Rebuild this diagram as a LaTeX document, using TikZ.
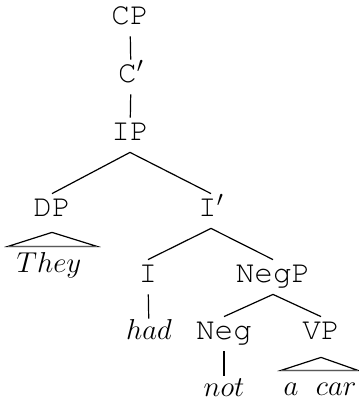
\documentclass[tikz,border=0pt]{standalone}
\usepackage{fontspec}
\setmonofont{texgyrecursor-regular.otf}
\begin{document}
\begin{tikzpicture}[x=0.5pt,y=-0.5pt,
  lab/.style={inner sep=0pt,font=\fontsize{15.5}{18}\selectfont\ttfamily,text height=0.57em,text depth=0pt,minimum height=17pt},
  word/.style={inner sep=0pt,font=\fontsize{13.5}{15}\selectfont,text height=0.5em,text depth=0pt,minimum height=15pt},
  edge/.style={line width=0.6pt},
  tri/.style={line width=0.6pt}]
\useasboundingbox (0,0) rectangle (358,400);
\node[lab] (CP) at (130,19) {CP};
\node[lab] (C1) at (131,77) {C$'$};
\node[lab] (IP) at (130,135) {IP};
\node[lab] (DP) at (52,211) {DP};
\node[lab] (I1) at (211,211) {I$'$};
\node[lab] (I) at (148,277) {I};
\node[lab] (NegP) at (273,277) {NegP};
\node[lab] (Neg) at (224,334) {Neg};
\node[lab] (VP) at (321,334) {VP};
\node[word] (they) at (49,267) {$They$};
\node[word] (had) at (149,334) {$had$};
\node[word] (not) at (224,391) {$not$};
\node[word] (acar) at (320,390) {$a$\ \ $car$};
\draw[edge] (CP) -- (C1);
\draw[edge] (C1) -- (IP);
\draw[edge] (IP.south) -- (DP.north);
\draw[edge] (IP.south) -- (I1.north);
\draw[edge] (I1.south) -- (I.north);
\draw[edge] (I1.south) -- (NegP.north);
\draw[edge] (I) -- (had);
\draw[edge] (NegP.south) -- (Neg.north);
\draw[edge] (NegP.south) -- (VP.north);
\draw[edge] (Neg) -- (not);
\draw[tri] ([yshift=-2pt]DP.south) coordinate (dpa) -- ++(-44,14) -- ++(89,0) -- cycle;
\draw[tri,line width=0.9pt,gray!70!black] ([shift={(-44,14)}]dpa) -- ++(89,0);
\draw[tri] ([yshift=-3pt]VP.south) coordinate (vpa) -- ++(-40,13) -- ++(77,0) -- cycle;
\draw[tri,line width=0.9pt,gray!70!black] ([shift={(-40,13)}]vpa) -- ++(77,0);
\end{tikzpicture}
\end{document}
